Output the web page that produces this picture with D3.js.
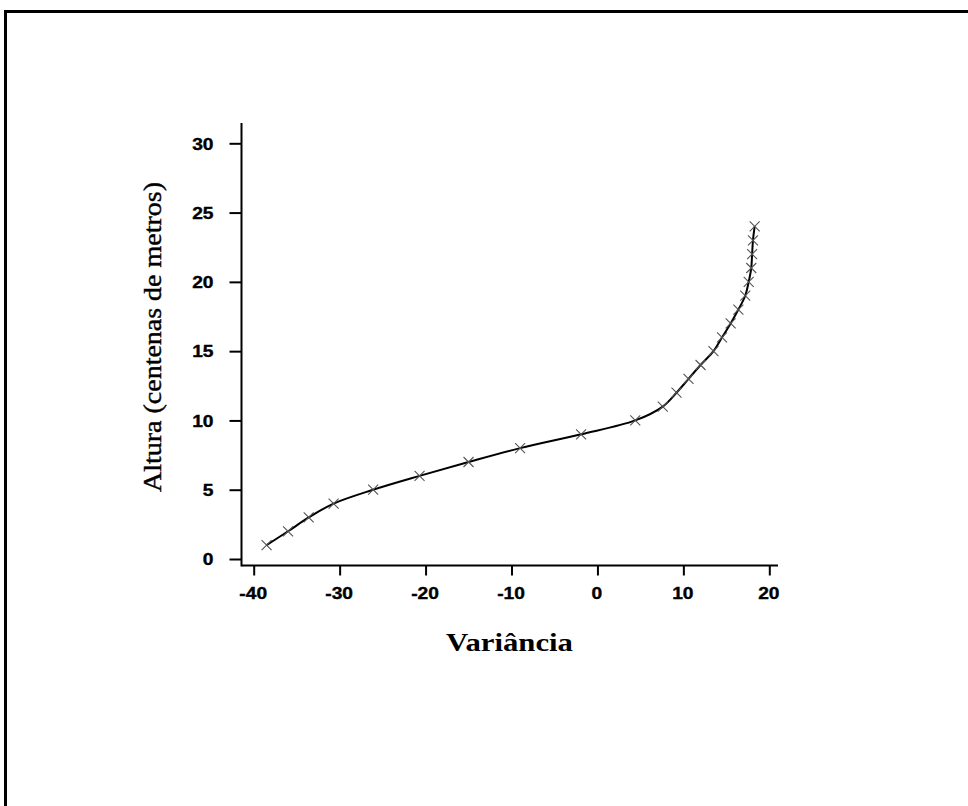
<!DOCTYPE html>
<html>
<head>
<meta charset="utf-8">
<script src="https://cdn.jsdelivr.net/npm/d3@7"></script>
<style>
  html, body { margin: 0; padding: 0; background: #fff; }
  svg { display: block; }
</style>
</head>
<body>
<svg id="chart" width="968" height="806"></svg>
<script>
// Variance profile by height (hundreds of metres)
const alturas = [1, 2, 3, 4, 5, 6, 7, 8, 9, 10, 11, 12, 13, 14, 15, 16, 17, 18, 19, 20, 21, 22, 23, 24];
const variancias = [-38.5, -36.0, -33.6, -30.7, -26.1, -20.7, -15.0, -9.0, -1.9, 4.4, 7.6, 9.2,
                    10.6, 12.0, 13.5, 14.5, 15.5, 16.4, 17.2, 17.6, 17.9, 18.0, 18.1, 18.3];
const xTicks = [-40, -30, -20, -10, 0, 10, 20];
const yTicks = [0, 5, 10, 15, 20, 25, 30];

const svg = d3.select("#chart");

// outer frame
svg.append("rect")
  .attr("x", 5.5).attr("y", 11.5)
  .attr("width", 1000).attr("height", 900)
  .attr("fill", "none").attr("stroke", "#000").attr("stroke-width", 3);

const x = d3.scaleLinear().domain([-40, 20]).range([253.7, 769.3]);
const y = d3.scaleLinear().domain([0, 30]).range([559, 143.3]);

const axisX0 = 241.5, axisX1 = 778, axisY0 = 565.5, axisY1 = 123;
const plainFmt = d => String(d);
const tickFont = "Liberation Sans, Arial, sans-serif";

function styleTickText(sel) {
  sel.attr("font-family", tickFont).attr("font-weight", "bold")
    .attr("font-size", 16).attr("fill", "#000")
    .attr("stroke", "#000").attr("stroke-width", 0.35);
}

// X axis
const gx = svg.append("g").attr("transform", `translate(0,${axisY0})`);
gx.call(d3.axisBottom(x).tickValues(xTicks).tickFormat(plainFmt)
  .tickSize(10).tickSizeOuter(0).tickPadding(0));
gx.select(".domain").remove();
gx.append("line").attr("x1", axisX0).attr("x2", axisX1).attr("y1", 0).attr("y2", 0)
  .attr("stroke", "#000").attr("stroke-width", 2);
gx.selectAll(".tick line").attr("stroke", "#000").attr("stroke-width", 2);
gx.selectAll(".tick text")
  .call(styleTickText)
  .attr("y", 0).attr("dy", 0)
  .attr("transform", "translate(-1,33) scale(1.2,1)");

// Y axis
const gy = svg.append("g").attr("transform", `translate(${axisX0},0)`);
gy.call(d3.axisLeft(y).tickValues(yTicks).tickFormat(plainFmt)
  .tickSize(12).tickSizeOuter(0).tickPadding(0));
gy.select(".domain").remove();
gy.append("line").attr("x1", 0).attr("x2", 0).attr("y1", axisY1).attr("y2", axisY0 + 1)
  .attr("stroke", "#000").attr("stroke-width", 2);
gy.selectAll(".tick line").attr("stroke", "#000").attr("stroke-width", 2);
gy.selectAll(".tick text")
  .call(styleTickText)
  .attr("x", 0).attr("dy", "0.36em")
  .attr("transform", "translate(-28,0) scale(1.2,1)");

// profile curve
const pts = alturas.map((h, i) => [variancias[i], h]);
const line = d3.line()
  .x(d => x(d[0])).y(d => y(d[1]))
  .curve(d3.curveCatmullRom.alpha(0.5));
svg.append("path").datum(pts)
  .attr("d", line)
  .attr("fill", "none").attr("stroke", "#000").attr("stroke-width", 2);

// cross markers
const s = 5;
const marks = svg.append("g").attr("stroke", "#555").attr("stroke-width", 1.1);
marks.selectAll("path.m").data(pts).join("path")
  .attr("class", "m")
  .attr("d", d => {
    const cx = x(d[0]), cy = y(d[1]);
    return `M${cx - s},${cy - s}L${cx + s},${cy + s}M${cx - s},${cy + s}L${cx + s},${cy - s}`;
  });

// axis titles
svg.append("text")
  .attr("x", 446).attr("y", 651)
  .attr("font-family", "Liberation Serif, Times New Roman, serif")
  .attr("font-weight", "bold").attr("font-size", 26)
  .attr("textLength", 127).attr("lengthAdjust", "spacingAndGlyphs")
  .text("Variância");

svg.append("text")
  .attr("transform", "translate(161,492) rotate(-90)")
  .attr("x", 0).attr("y", 0)
  .attr("font-family", "Liberation Serif, Times New Roman, serif")
  .attr("font-size", 26)
  .attr("stroke", "#000").attr("stroke-width", 0.4)
  .attr("textLength", 310).attr("lengthAdjust", "spacingAndGlyphs")
  .text("Altura (centenas de metros)");
</script>
</body>
</html>
